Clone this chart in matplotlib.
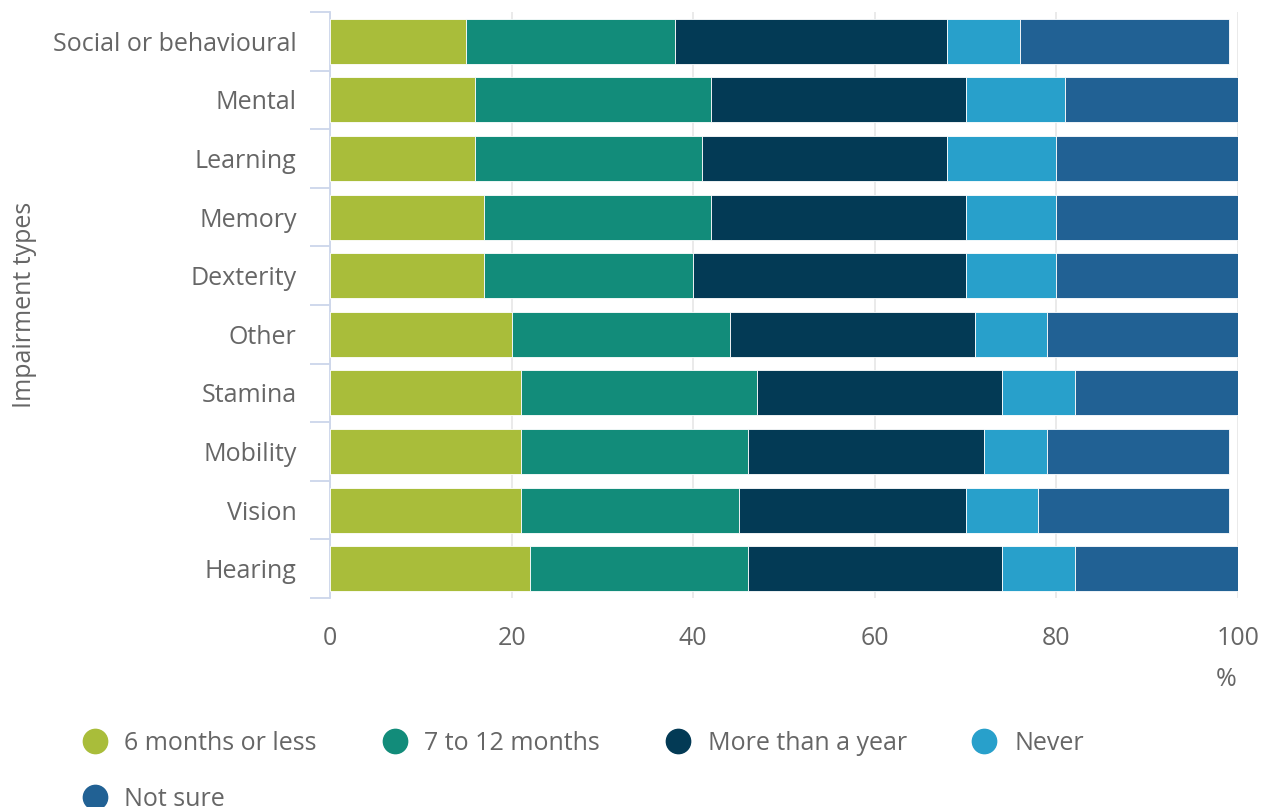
import numpy as np
import matplotlib
matplotlib.use('Agg')
import matplotlib.pyplot as plt
from matplotlib.lines import Line2D

plt.rcParams['font.family'] = ['Open Sans', 'DejaVu Sans']

categories = ['Social or behavioural', 'Mental', 'Learning', 'Memory', 'Dexterity',
              'Other', 'Stamina', 'Mobility', 'Vision', 'Hearing']
series_names = ['6 months or less', '7 to 12 months', 'More than a year', 'Never', 'Not sure']
six_months = [15, 16, 16, 17, 17, 20, 21, 21, 21, 22]
seven_to_twelve = [23, 26, 25, 25, 23, 24, 26, 25, 24, 24]
more_than_year = [30, 28, 27, 28, 30, 27, 27, 26, 25, 28]
never = [8, 11, 12, 10, 10, 8, 8, 7, 8, 8]
not_sure = [23, 19, 20, 20, 20, 21, 18, 20, 21, 18]
colors = ['#a9bd3a', '#128c7a', '#033a55', '#28a0cb', '#216194']

series = [six_months, seven_to_twelve, more_than_year, never, not_sure]
text_col = '#666666'
fs = 18

fig = plt.figure(figsize=(12.66, 8.07), dpi=100)
ax = fig.add_axes([330/1266, 1 - 598/807, 908/1266, 586/807])

y = np.arange(len(categories))
left = np.zeros(len(categories))
for vals, name, col in zip(series, series_names, colors):
    ax.barh(y, vals, left=left, height=0.77, color=col, edgecolor='white',
            linewidth=0.6, label=name, zorder=3)
    left += np.array(vals)

ax.set_xlim(0, 100)
ax.set_ylim(len(categories) - 0.5, -0.5)
ax.set_xticks(np.arange(0, 101, 20))
ax.grid(axis='x', color='#e6e6e6', linewidth=1.2, zorder=0)
ax.set_axisbelow(True)

ax.set_yticks(y)
ax.set_yticklabels(categories)
ax.set_yticks(np.arange(-0.5, len(categories)), minor=True)
ax.tick_params(axis='y', which='major', length=0, pad=24, labelsize=fs, labelcolor=text_col)
ax.tick_params(axis='y', which='minor', length=14.5, width=1.3, color='#ccd6eb')
ax.tick_params(axis='x', length=0, pad=20, labelsize=fs, labelcolor=text_col)

for s in ['top', 'right', 'bottom']:
    ax.spines[s].set_visible(False)
ax.spines['left'].set_color('#ccd6eb')
ax.spines['left'].set_linewidth(1.3)

ax.set_ylabel('Impairment types', fontsize=fs, color=text_col)
ax.yaxis.set_label_coords(-0.323, 0.5)
fig.text(1226/1266, 1 - 679/807, '%', ha='center', va='center', fontsize=fs, color=text_col)

# row-wise legend order (matplotlib fills columns first)
order = [0, 4, 1, 2, 3]
handles = [Line2D([0], [0], marker='o', linestyle='none', markersize=17.5,
                  markerfacecolor=colors[i], markeredgecolor=colors[i]) for i in order]
labels = [series_names[i] for i in order]
fig.legend(handles, labels, loc='upper left', bbox_to_anchor=(57/1266, 1 - 708/807),
           ncol=4, frameon=False, fontsize=fs, labelcolor=text_col,
           handletextpad=0.6, columnspacing=2.5, handlelength=1.2, labelspacing=1.25)

fig.savefig('out.png', dpi=100)
